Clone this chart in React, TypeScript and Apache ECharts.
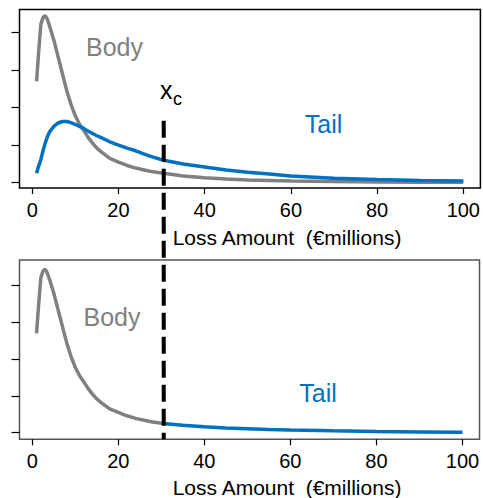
import React, { useEffect, useRef } from "react";
import * as echarts from "echarts";

// Loss amounts (€ millions) at which the densities were read
const lossX = [1, 1.5, 2, 2.5, 3, 3.5, 4, 5, 6, 7, 8, 9, 10, 11, 12, 13, 14, 15, 16, 18, 20, 22, 24, 26, 28, 30.5, 35, 40, 45, 50, 55, 60, 70, 80, 90, 100];
// Body distribution density (arbitrary units)
const bodyDensity = [2.7, 3.5, 4.22, 4.4, 4.45, 4.35, 4.18, 3.8, 3.35, 2.9, 2.45, 2.08, 1.78, 1.55, 1.38, 1.2, 1.05, 0.92, 0.82, 0.65, 0.55, 0.46, 0.39, 0.34, 0.29, 0.25, 0.18, 0.13, 0.1, 0.075, 0.06, 0.045, 0.03, 0.02, 0.015, 0.01];
// Tail distribution density (arbitrary units)
const tailDensity = [0.25, 0.45, 0.62, 0.85, 1.05, 1.22, 1.35, 1.5, 1.59, 1.63, 1.63, 1.6, 1.55, 1.5, 1.44, 1.37, 1.31, 1.25, 1.2, 1.09, 1.0, 0.92, 0.85, 0.76, 0.68, 0.6, 0.5, 0.42, 0.34, 0.28, 0.23, 0.18, 0.12, 0.085, 0.06, 0.045];
// Spliced tail (bottom panel), beyond the threshold
const splicedTailX = [30.5, 35, 40, 45, 50, 55, 60, 70, 80, 90, 100];
const splicedTailDensity = [0.25, 0.2, 0.16, 0.13, 0.11, 0.09, 0.075, 0.05, 0.03, 0.02, 0.01];

const xTicks = [0, 20, 40, 60, 80, 100];
const yTicks = [0, 1, 2, 3, 4];
const XC = 30.5; // threshold x_c
const DASH_TOP = 1.65; // y value where the dashed threshold line starts (top panel)

const GRAY = "#808080";
const BLUE = "#0070C0";
const FONT = "'Liberation Sans', Arial, sans-serif";

export default function App() {
  const ref = useRef<HTMLDivElement>(null);

  useEffect(() => {
    if (!ref.current) return;
    const chart = echarts.init(ref.current, null, { renderer: "svg" });

    const mkX = (gridIndex: number) => ({
      type: "value",
      gridIndex,
      position: "bottom",
      min: -2.96,
      max: 103.96,
      axisLine: { show: false, onZero: false },
      splitLine: { show: false },
      axisTick: {
        show: true,
        inside: false,
        customValues: xTicks,
        length: 6,
        lineStyle: { color: "#000", width: 1.2 },
      },
      axisLabel: {
        show: true,
        customValues: xTicks,
        margin: 12,
        fontSize: 20,
        color: "#000",
        fontFamily: FONT,
      },
    });
    const mkY = (gridIndex: number, min: number, max: number) => ({
      type: "value",
      gridIndex,
      position: "left",
      min,
      max,
      axisLine: { show: false, onZero: false },
      splitLine: { show: false },
      axisTick: {
        show: true,
        inside: false,
        customValues: yTicks,
        length: 8,
        lineStyle: { color: "#000", width: 1.2 },
      },
      axisLabel: { show: false, customValues: yTicks },
    });

    const bodyData = lossX.map((x, i) => [x, bodyDensity[i]]);
    const tailData = lossX.map((x, i) => [x, tailDensity[i]]);
    const bodyCut = bodyData.filter((d) => d[0] <= XC);
    const splicedData = splicedTailX.map((x, i) => [x, splicedTailDensity[i]]);

    const lineSeries = (xi: number, data: number[][], color: string, z = 2) => ({
      type: "line",
      xAxisIndex: xi,
      yAxisIndex: xi,
      data,
      showSymbol: false,
      symbol: "none",
      smooth: false,
      z,
      lineStyle: { color, width: 3.5 },
    });

    chart.setOption({
      animation: false,
      backgroundColor: "#fff",
      grid: [
        { left: 19.5, top: 9.5, width: 461.5, height: 178.5, show: true, borderColor: "#000", borderWidth: 1.5, backgroundColor: "transparent" },
        { left: 19.5, top: 260, width: 460, height: 179.3, show: true, borderColor: "#555", borderWidth: 1.5, backgroundColor: "transparent" },
      ],
      xAxis: [mkX(0), mkX(1)],
      yAxis: [mkY(0, -0.14, 4.61), mkY(1, -0.18, 4.7)],
      series: [
        lineSeries(0, bodyData, GRAY, 2),
        lineSeries(0, tailData, BLUE, 3),
        lineSeries(1, bodyCut, GRAY, 2),
        lineSeries(1, splicedData, BLUE, 3),
      ],
    });

    const xPix = chart.convertToPixel({ xAxisIndex: 0 }, XC) as number;
    const yTop = chart.convertToPixel({ yAxisIndex: 0 }, DASH_TOP) as number;
    const yBot = chart.convertToPixel({ yAxisIndex: 1 }, -0.18) as number;

    const txt = (text: string, x: number, y: number, size: number, color: string, align = "center") => ({
      type: "text",
      x,
      y,
      z: 10,
      style: { text, fill: color, fontSize: size, fontFamily: FONT, align, verticalAlign: "middle" },
    });

    chart.setOption({
      graphic: [
        {
          type: "line",
          z: 20,
          shape: { x1: xPix, y1: yTop, x2: xPix, y2: yBot },
          style: { stroke: "#000", lineWidth: 4, lineDash: [17, 7] },
        },
        txt("Body", 114.5, 47, 25, GRAY),
        txt("Tail", 323.5, 124, 25, BLUE),
        txt("Body", 112, 316.5, 25, GRAY),
        txt("Tail", 318, 393, 25, BLUE),
        txt("x", 160, 89.6, 25, "#000", "left"),
        txt("c", 173, 99, 18, "#000", "left"),
        txt("Loss Amount\u00a0 (€millions)", 287, 237.5, 21, "#000"),
        txt("Loss Amount\u00a0 (€millions)", 287, 487, 21, "#000"),
      ],
    });

    return () => chart.dispose();
  }, []);

  return (
    <div
      ref={ref}
      style={{ position: "fixed", left: 0, top: 0, width: 483, height: 498, background: "#fff" }}
    />
  );
}
